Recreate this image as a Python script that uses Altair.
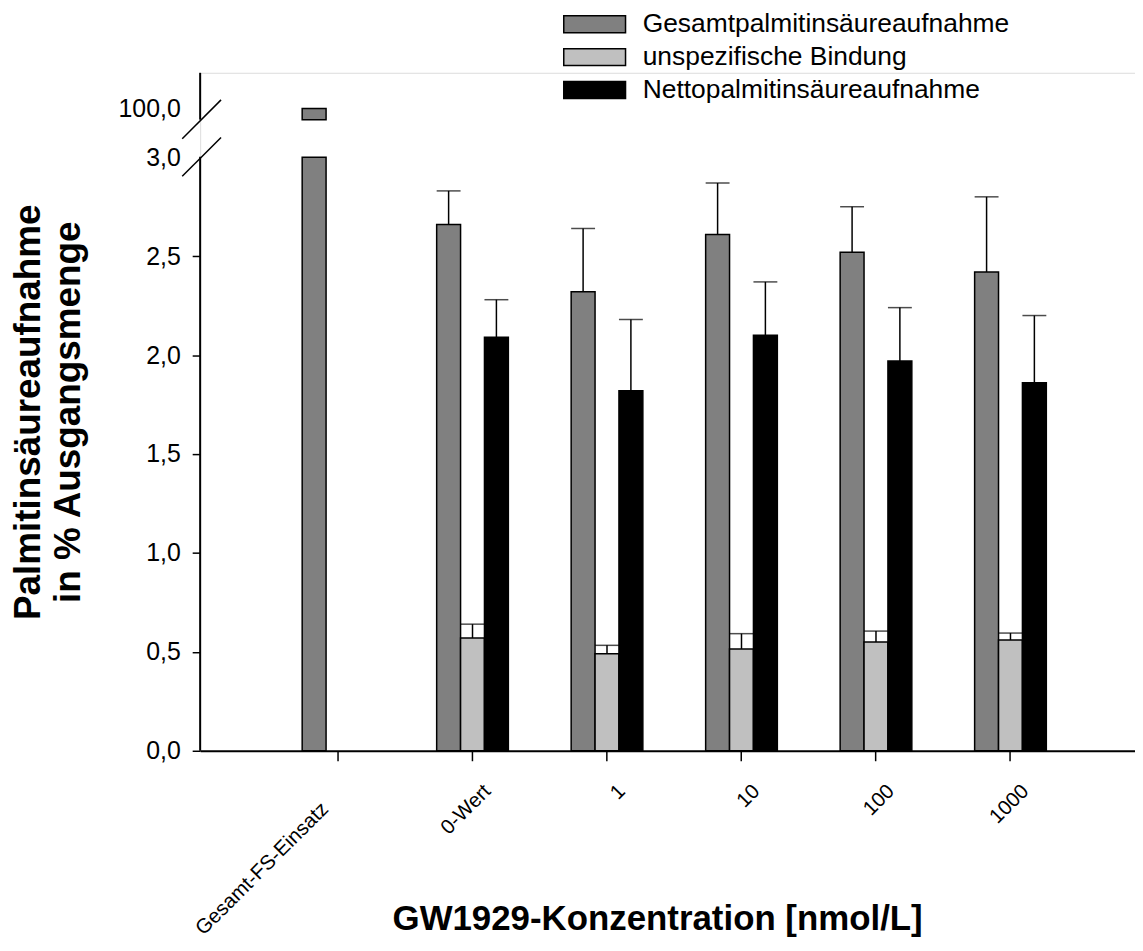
import altair as alt
import pandas as pd

# ---- data ----
categories = ["Gesamt-FS-Einsatz", "0-Wert", "1", "10", "100", "1000"]
series_names = ["Gesamtpalmitinsäureaufnahme", "unspezifische Bindung", "Nettopalmitinsäureaufnahme"]
colors = ["#808080", "#c0c0c0", "#000000"]

gesamt = [100.0, 2.66, 2.32, 2.61, 2.52, 2.42]
gesamt_err = [None, 0.17, 0.32, 0.26, 0.23, 0.38]
unspez = [None, 0.57, 0.49, 0.515, 0.55, 0.56]
unspez_err = [None, 0.07, 0.043, 0.077, 0.055, 0.035]
netto = [None, 2.09, 1.82, 2.10, 1.97, 1.86]
netto_err = [None, 0.19, 0.36, 0.27, 0.27, 0.34]

y_ticks = [0.0, 0.5, 1.0, 1.5, 2.0, 2.5, 3.0]

# ---- broken axis settings ----
BREAK_LOW = 3.0     # lower segment ends here
BREAK_GAP = 3.19    # upper segment starts here (display units)
TOP_VALUE = 100.0   # value shown on upper segment
TOP_POS = 3.246     # display position of TOP_VALUE
Y_MAX = 3.427

FONT = "Liberation Sans"

bar_rows, err_rows = [], []
for s, vals, errs in zip(series_names, [gesamt, unspez, netto], [gesamt_err, unspez_err, netto_err]):
    for c, v, e in zip(categories, vals, errs):
        if v is None:
            continue
        if v > BREAK_LOW:
            bar_rows.append(dict(cat=c, series=s, lo=0.0, hi=BREAK_LOW))
            bar_rows.append(dict(cat=c, series=s, lo=BREAK_GAP, hi=TOP_POS))
        else:
            bar_rows.append(dict(cat=c, series=s, lo=0.0, hi=v))
        if e is not None:
            err_rows.append(dict(cat=c, series=s, lo=v, hi=v + e))

bars_df = pd.DataFrame(bar_rows)
err_df = pd.DataFrame(err_rows)

first_test = f"datum.value == '{categories[0]}'"
x_enc = alt.X(
    "cat:N",
    sort=categories,
    scale=alt.Scale(domain=categories, paddingInner=0.467, paddingOuter=0.709, align=0.535),
    axis=alt.Axis(
        title="GW1929-Konzentration [nmol/L]",
        titleFontSize=35, titleFontWeight="bold", titleFont=FONT, titleColor="black",
        titleX=459, titleY=180, titleBaseline="alphabetic", titleAnchor="middle",
        labelAngle=-45, labelAlign="right", labelBaseline="top",
        labelFontSize=20.5, labelFont=FONT, labelColor="black", labelLimit=400,
        labelPadding={"condition": {"test": first_test, "value": 38}, "value": 20},
        labelOffset={"condition": {"test": first_test, "value": -20}, "value": 8},
        tickSize=10, tickWidth=1.5, tickColor="black",
        domainColor="black", domainWidth=2, grid=False,
    ),
)
xoff_enc = alt.XOffset("series:N", sort=series_names,
                       scale=alt.Scale(domain=series_names, paddingInner=0, paddingOuter=0))

y_scale = alt.Scale(domain=[0, Y_MAX], nice=False, zero=True)
label_expr = (f"datum.value > {BREAK_LOW + 0.1} ? '{str(TOP_VALUE).replace('.', ',')}' : "
              "replace(format(datum.value, '.1f'), '.', ',')")

y_axis = alt.Axis(
    values=y_ticks + [TOP_POS],
    labelExpr=label_expr,
    title=["Palmitinsäureaufnahme", "in % Ausgangsmenge"],
    titleFontSize=37, titleFontWeight="bold", titleFont=FONT, titleColor="black",
    titleX=-190, titleBaseline="top", titleLineHeight=40,
    labelFontSize=25, labelFont=FONT, labelColor="black", labelPadding=12,
    tickSize=8, tickWidth=1.5, tickColor="black",
    tickOpacity={"condition": {"test": f"datum.value >= {BREAK_LOW}", "value": 0}, "value": 1},
    domain=False, grid=False,
)

bars = alt.Chart(bars_df).mark_bar(stroke="black", strokeWidth=1.5).encode(
    x=x_enc,
    xOffset=xoff_enc,
    y=alt.Y("lo:Q", scale=y_scale, axis=y_axis),
    y2="hi:Q",
    color=alt.Color(
        "series:N",
        sort=series_names,
        scale=alt.Scale(domain=series_names, range=colors),
        legend=alt.Legend(
            title=None, orient="none", legendX=383, legendY=-62,
            symbolType="M-3.65,-1H3.65V1H-3.65Z", symbolSize=289,
            symbolStrokeColor="black", symbolStrokeWidth=1.5, symbolOpacity=1,
            labelFontSize=26.5, labelFont=FONT, labelColor="black", labelOffset=35,
            rowPadding=6, labelLimit=600,
        ),
    ),
)

err_line = alt.Chart(err_df).mark_rule(color="black", strokeWidth=1.5).encode(
    x=alt.X("cat:N", sort=categories), xOffset=xoff_enc,
    y=alt.Y("lo:Q", scale=y_scale), y2="hi:Q",
)
err_cap = alt.Chart(err_df).mark_tick(color="black", thickness=1.5, size=24, orient="horizontal").encode(
    x=alt.X("cat:N", sort=categories), xOffset=xoff_enc,
    y=alt.Y("hi:Q", scale=y_scale),
)

# y axis line drawn in two segments (broken axis)
axis_df = pd.DataFrame({"lo": [0.0, BREAK_GAP], "hi": [BREAK_LOW + 0.003, Y_MAX]})
axis_line = alt.Chart(axis_df).mark_rule(color="black", strokeWidth=2).encode(
    x=alt.value(0), y=alt.Y("lo:Q", scale=y_scale), y2="hi:Q",
)
# break marks
slash_df = pd.DataFrame({"c": [BREAK_LOW, BREAK_GAP]})
slashes = alt.Chart(slash_df).transform_calculate(
    a="datum.c - 0.096", b="datum.c + 0.100"
).mark_rule(color="black", strokeWidth=1.5).encode(
    x=alt.value(-18), x2=alt.value(21), y=alt.Y("a:Q", scale=y_scale), y2="b:Q",
)

chart = alt.layer(bars, err_line, err_cap, axis_line, slashes).properties(
    width=939, height=681,
    autosize=alt.AutoSizeParams(type="none"),
    padding={"left": 193, "top": 63, "right": 0, "bottom": 192},
).configure_view(stroke=None).configure(font=FONT)

chart.save("out.html", embed_options={"renderer": "svg", "actions": False})
